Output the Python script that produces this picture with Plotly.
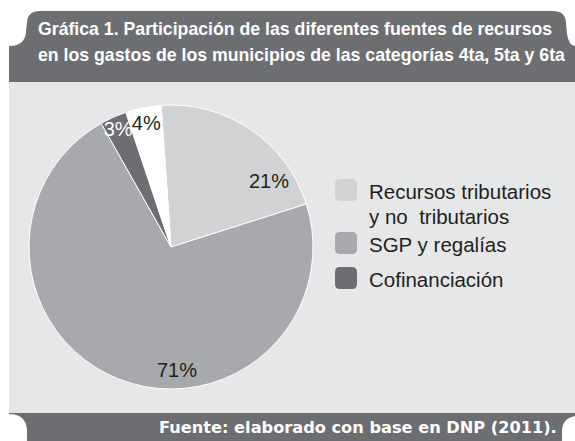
import plotly.graph_objects as go

W, H = 575, 441

# ---- data ----
categories = ["Recursos tributarios y no tributarios", "SGP y regalías", "Cofinanciación", "Otros"]
values = [21, 71, 3, 4]
legend_lines = [["Recursos tributarios", "y no  tributarios"], ["SGP y regalías"], ["Cofinanciación"]]
title_lines = [
    "Gráfica 1. Participación de las diferentes fuentes de recursos",
    "en los gastos de los municipios de las categorías 4ta, 5ta y 6ta",
]
source_text = "Fuente: elaborado con base en DNP (2011)."

# ---- styles ----
slice_colors = ["#d1d2d4", "#a7a9ac", "#6d6e71", "#ffffff"]
label_colors = ["#231f20", "#231f20", "#ffffff", "#231f20"]
DARK = "#6d6e71"
PANEL = "#e6e7e8"
TEXT = "#231f20"
LABEL_FONT = "Liberation Sans, Arial"


def px(x):
    return x / W


def py(y):
    return 1 - y / H


def path(cmds):
    out = []
    for c in cmds:
        if isinstance(c, str):
            out.append(c)
        else:
            out.append(f"{px(c[0]):.5f},{py(c[1]):.5f}")
    return " ".join(out)


fig = go.Figure()

# big slices get their labels as free annotations (placed like the original), small ones use pie text
pie_text = ["", "", "%{value}%", "%{value}%"]

fig.add_trace(go.Pie(
    labels=categories,
    values=values,
    sort=False,
    direction="clockwise",
    rotation=-4,
    marker=dict(colors=slice_colors, line=dict(color="#ffffff", width=1)),
    texttemplate=pie_text,
    textposition="inside",
    insidetextorientation="horizontal",
    textfont=dict(family=LABEL_FONT, size=20, color=label_colors),
    domain=dict(x=[px(29), px(313)], y=[py(389), py(105)]),
    showlegend=False,
    hoverinfo="label+value",
))

shapes = []
# panel
shapes.append(dict(type="rect", xref="paper", yref="paper", x0=px(9), x1=px(575), y0=py(413), y1=py(82),
                   fillcolor=PANEL, line=dict(width=0), layer="below"))
# header tab
hdr = path(["M", (9, 82), "L", (9, 46), "Q", (25, 46), (26, 32), "L", (27, 22), "Q", (28, 11), (40, 11),
            "L", (553, 11), "Q", (565, 11), (566, 22), "L", (567, 34), "Q", (569, 46), (575, 46),
            "L", (575, 82), "Z"])
shapes.append(dict(type="path", xref="paper", yref="paper", path=hdr, fillcolor=DARK, line=dict(width=0)))
# footer
ftr = path(["M", (9, 413), "L", (575, 413), "L", (575, 416), "Q", (563, 418), (562, 430), "L", (562, 441),
            "L", (27, 441), "L", (27, 430), "Q", (26, 414), (9, 414), "Z"])
shapes.append(dict(type="path", xref="paper", yref="paper", path=ftr, fillcolor=DARK, line=dict(width=0)))

# legend swatches
sw_tops = [179, 232, 267]
for i, top in enumerate(sw_tops):
    x0, x1, y0, y1, r = 335, 357, top, top + 22, 5
    p = path(["M", (x0 + r, y0), "L", (x1 - r, y0), "Q", (x1, y0), (x1, y0 + r), "L", (x1, y1 - r),
              "Q", (x1, y1), (x1 - r, y1), "L", (x0 + r, y1), "Q", (x0, y1), (x0, y1 - r),
              "L", (x0, y0 + r), "Q", (x0, y0), (x0 + r, y0), "Z"])
    shapes.append(dict(type="path", xref="paper", yref="paper", path=p, fillcolor=slice_colors[i],
                       line=dict(width=0)))

annotations = []
# title lines
for txt, yc in zip(title_lines, [29, 55]):
    annotations.append(dict(text=f"<b>{txt}</b>", x=px(36), y=py(yc), xref="paper", yref="paper",
                            xanchor="left", yanchor="middle", showarrow=False,
                            font=dict(family="Liberation Sans, Arial", size=17.7, color="#ffffff")))
# legend texts
leg_y = [[191.5, 216], [244], [279]]
for lines, ys in zip(legend_lines, leg_y):
    for txt, yc in zip(lines, ys):
        annotations.append(dict(text=txt, x=px(367), y=py(yc), xref="paper", yref="paper",
                                xanchor="left", yanchor="middle", align="left", showarrow=False,
                                font=dict(family=LABEL_FONT, size=20.5, color=TEXT)))
# labels of the two big slices
for v, (lx, ly), col in zip(values[:2], [(269, 181), (177, 370)], label_colors[:2]):
    annotations.append(dict(text=f"{v}%", x=px(lx), y=py(ly), xref="paper", yref="paper",
                            xanchor="center", yanchor="middle", showarrow=False,
                            font=dict(family=LABEL_FONT, size=20, color=col)))
# source
annotations.append(dict(text=f"<b>{source_text}</b>", x=px(559), y=py(427), xref="paper", yref="paper",
                        xanchor="right", yanchor="middle", showarrow=False,
                        font=dict(family="DejaVu Sans, Verdana", size=16.2, color="#ffffff")))

fig.update_layout(
    width=W, height=H, autosize=False,
    margin=dict(l=0, r=0, t=0, b=0),
    paper_bgcolor="#ffffff",
    plot_bgcolor="#ffffff",
    shapes=shapes,
    annotations=annotations,
    uniformtext=dict(minsize=20, mode="show"),
)

fig.write_html("out.html", config={"displayModeBar": False},
               post_script="document.body.style.margin='0';document.body.style.overflow='hidden';")
